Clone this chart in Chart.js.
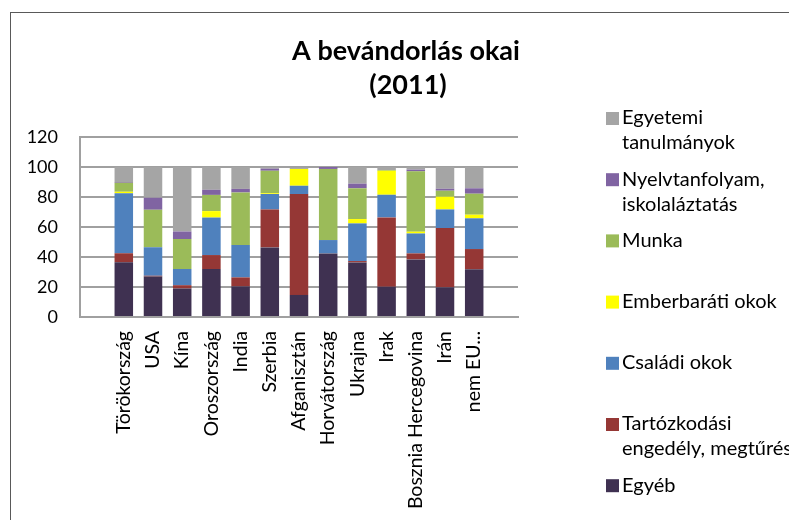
<!DOCTYPE html>
<html>
<head>
<meta charset="utf-8">
<script src="https://cdn.jsdelivr.net/npm/chart.js@4/dist/chart.umd.min.js"></script>
<style>
  body { margin: 0; background: #fff; }
  canvas { display: block; }
</style>
</head>
<body>
<canvas id="chart" width="789" height="520"></canvas>
<script>
// categories (empty slot at both ends, as in the original)
const countries = ['', 'Törökország', 'USA', 'Kína', 'Oroszország', 'India', 'Szerbia', 'Afganisztán',
  'Horvátország', 'Ukrajna', 'Irak', 'Bosznia Hercegovina', 'Irán', 'nem EU...', ''];

// series, bottom to top (%)
const egyeb        = [null, 36.5, 27,   19,   32,   20.4, 46.4, 14.7, 42.4, 36.4, 20.2, 38.4, 19.8, 31.8, null];
const tartozkodasi = [null, 6,    0.5,  2.2,  9.3,  6,    25.3, 67.3, 0,    0.9,  46.2, 4,    39.5, 13.5, null];
const csaladi      = [null, 40,   19,   10.8, 25,   21.6, 10.3, 5.5,  8.9,  25.1, 15.1, 13.3, 12.4, 20.5, null];
const emberbarati  = [null, 1,    0,    0,    4.3,  0,    0.5,  11.2, 0,    2.9,  16,   1.2,  8.5,  2.4,  null];
const munka        = [null, 6,    25,   20,   10.8, 35,   15,   0,    47.4, 20.5, 0.5,  40.2, 4,    14,   null];
const nyelv        = [null, 0.5,  8,    5,    3.4,  2.4,  1.4,  0,    1.3,  3.1,  0,    1.1,  1.3,  3.6,  null];
const egyetemi     = [null, 10,   20.5, 43,   15.2, 14.6, 1.1,  0.8,  0,    11.1, 2,    1.8,  14.5, 14.2, null];

const seriesNames = [
  ['Egyéb'],
  ['Tartózkodási', 'engedély, megtűrés'],
  ['Családi okok'],
  ['Emberbaráti okok'],
  ['Munka'],
  ['Nyelvtanfolyam,', 'iskolaláztatás'],
  ['Egyetemi', 'tanulmányok']
];
const seriesData = [egyeb, tartozkodasi, csaladi, emberbarati, munka, nyelv, egyetemi];
const colors = ['#3F3151', '#953735', '#4F81BD', '#FFFF00', '#9BBB59', '#8064A2', '#A5A5A5'];

const yTicks = [0, 20, 40, 60, 80, 100, 120];

const FONT = 'Lato';
Chart.defaults.font.family = FONT;
Chart.defaults.color = '#000';

// frame, title and legend
const decor = {
  id: 'decor',
  beforeDraw(chart) {
    const ctx = chart.ctx;
    ctx.save();
    ctx.fillStyle = '#fff';
    ctx.fillRect(0, 0, chart.width, chart.height);
    ctx.strokeStyle = '#595959';
    ctx.lineWidth = 1;
    ctx.strokeRect(10.5, 12.5, 900, 600);
    ctx.restore();
  },
  afterDraw(chart) {
    const ctx = chart.ctx;
    ctx.save();
    ctx.fillStyle = '#000';
    ctx.textAlign = 'center';
    ctx.textBaseline = 'alphabetic';
    ctx.font = 'bold 27px ' + FONT;
    ctx.fillText('A bevándorlás okai', 406, 60);
    ctx.fillText('(2011)', 408, 94);

    // legend, top series first
    ctx.font = '20px ' + FONT;
    ctx.textAlign = 'left';
    ctx.textBaseline = 'middle';
    for (let k = 0; k < seriesNames.length; k++) {
      const i = seriesNames.length - 1 - k;
      const y = 118 + k * 61.2;
      ctx.fillStyle = colors[i];
      ctx.fillRect(606, y - 6, 13, 13);
      ctx.fillStyle = '#000';
      seriesNames[i].forEach((line, j) => ctx.fillText(line, 622, y + j * 25));
    }
    ctx.restore();
  }
};

new Chart(document.getElementById('chart'), {
  type: 'bar',
  data: {
    labels: countries,
    datasets: seriesData.map((d, i) => ({
      label: seriesNames[i].join(' '),
      data: d,
      backgroundColor: colors[i],
      borderWidth: 0,
      barPercentage: 0.634,
      categoryPercentage: 1
    }))
  },
  options: {
    responsive: false,
    animation: false,
    layout: { padding: { left: 0, right: 271, top: 137, bottom: 0 } },
    plugins: {
      legend: { display: false },
      title: { display: false },
      tooltip: { enabled: false }
    },
    scales: {
      x: {
        stacked: true,
        grid: { display: false, drawTicks: false },
        border: { display: true, color: '#a0a0a0', width: 2 },
        ticks: {
          autoSkip: false,
          maxRotation: 90,
          minRotation: 90,
          padding: 14,
          font: { size: 19.5 }
        },
        afterFit(scale) { scale.height = 203; }
      },
      y: {
        stacked: true,
        min: 0,
        max: 120,
        afterBuildTicks(scale) { scale.ticks = yTicks.map(v => ({ value: v })); },
        grid: { color: '#a0a0a0', lineWidth: 2, drawTicks: false },
        border: { display: true, color: '#a0a0a0', width: 2 },
        ticks: { padding: 22, font: { size: 18 } },
        afterFit(scale) { scale.width = 80; }
      }
    }
  },
  plugins: [decor]
});
</script>
</body>
</html>
